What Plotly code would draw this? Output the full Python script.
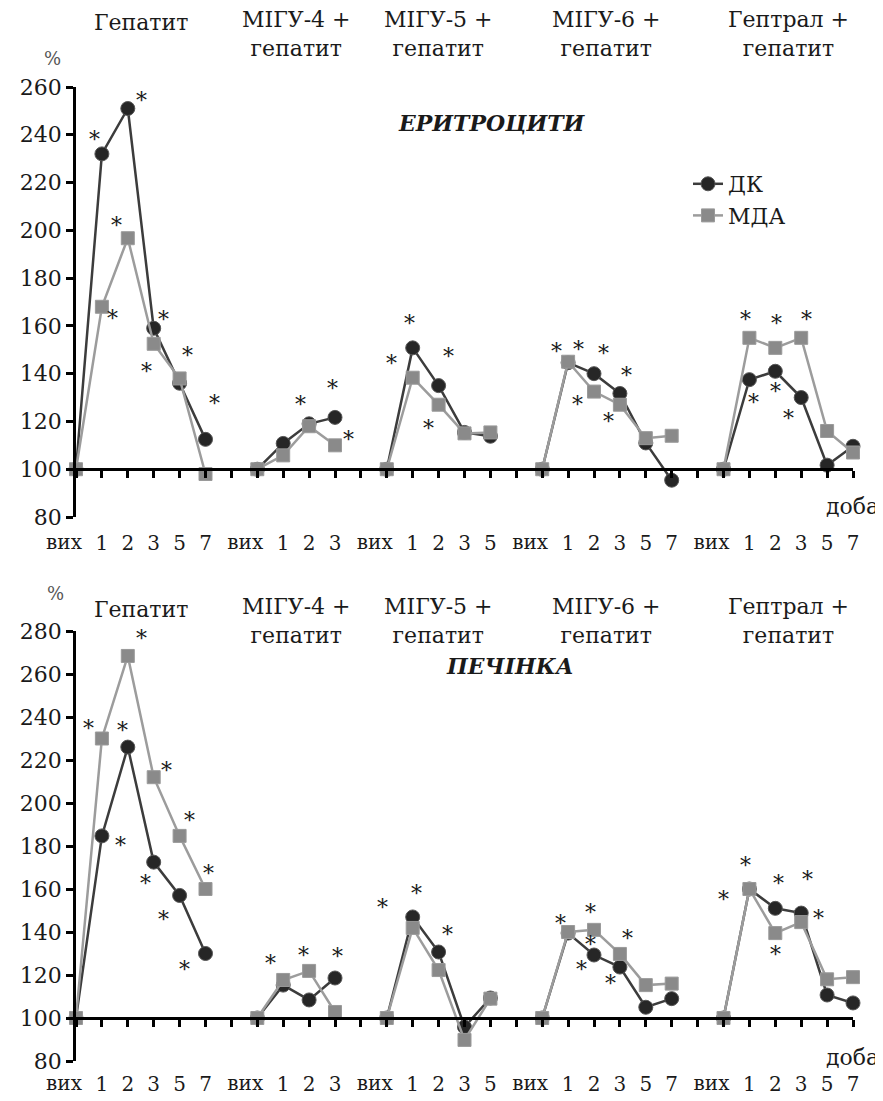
import plotly.graph_objects as go

# ---------------- data ----------------
labels = ["вих", "1", "2", "3", "5", "7", "",
          "вих", "1", "2", "3", "",
          "вих", "1", "2", "3", "5", "",
          "вих", "1", "2", "3", "5", "7", "",
          "вих", "1", "2", "3", "5", "7"]

groups = ["Гепатит", "МІГУ-4 +<br>гепатит", "МІГУ-5 +<br>гепатит",
          "МІГУ-6 +<br>гепатит", "Гептрал +<br>гепатит"]
group_centers = [2.5, 8.5, 14, 20.5, 27.5]

ery_dk = [100, 232, 251, 159, 136, 112.5, None,
          100, 110.8, 119, 121.7, None,
          100, 150.8, 135, 115.4, 113.8, None,
          100, 144.6, 140, 131.7, 111, 95.4, None,
          100, 137.5, 141, 130, 101.7, 109.6]
ery_mda = [100, 168, 196.7, 152.5, 138, 98, None,
           100, 105.8, 118, 110, None,
           100, 138.3, 127, 115, 115.4, None,
           100, 145, 132.5, 127, 113, 114, None,
           100, 155, 150.8, 155, 116, 107]

liv_dk = [100, 184.7, 226, 172.5, 157, 130, None,
          100, 115.3, 108.4, 118.6, None,
          100, 147, 130.7, 95.8, 109.3, None,
          100, 139.5, 129.3, 123.7, 105, 109, None,
          100, 160, 151, 148.8, 110.7, 107]
liv_mda = [100, 230, 268.4, 212, 184.7, 160, None,
           100, 117.7, 121.9, 102.8, None,
           100, 141.9, 122.3, 89.8, 109, None,
           100, 140, 141, 129.8, 115.3, 116, None,
           100, 160, 139.5, 144.6, 118, 119]

# significance asterisks: (series, index, dx px, dy px (down))
ery_stars = [("dk", 1, -7, -20), ("dk", 2, 14, -14), ("mda", 2, -11, -19),
             ("mda", 1, 11, 6), ("dk", 3, 10, -15), ("mda", 3, -7, 22),
             ("mda", 4, 8, -29), ("dk", 5, 9, -42),
             ("mda", 9, -9, -28), ("dk", 10, -3, -35), ("mda", 10, 13, -12),
             ("dk", 13, -21, 10), ("dk", 13, -3, -30), ("dk", 14, 10, -35),
             ("mda", 14, -10, 18),
             ("mda", 19, -12, -16), ("dk", 19, 10, -19), ("dk", 20, 9, -26),
             ("dk", 21, 7, -24), ("mda", 20, -17, 7), ("mda", 21, -11, 11),
             ("mda", 26, -4, -24), ("mda", 27, 1, -30), ("mda", 28, 5, -24),
             ("dk", 26, 4, 17), ("dk", 27, 0, 14), ("dk", 28, -13, 15)]
liv_stars = [("mda", 1, -13, -16), ("dk", 2, -5, -23), ("mda", 2, 14, -23),
             ("mda", 3, 13, -13), ("mda", 4, 10, -21), ("mda", 5, 3, -22),
             ("dk", 1, 19, 4), ("dk", 3, -8, 15), ("dk", 4, -16, 18),
             ("dk", 5, -21, 10),
             ("mda", 8, -13, -22), ("mda", 9, -6, -21), ("dk", 10, 2, -28),
             ("dk", 13, -30, -15), ("dk", 13, 4, -29), ("dk", 14, 9, -24),
             ("mda", 19, -8, -15), ("mda", 20, -4, -23), ("mda", 20, -4, 9),
             ("dk", 20, -13, 8), ("mda", 21, 8, -21), ("dk", 21, -9, 10),
             ("mda", 26, -26, 4), ("mda", 26, -4, -30), ("dk", 27, 3, -31),
             ("dk", 28, 6, -40), ("dk", 28, 17, -1), ("mda", 27, 0, 15)]

# ---------------- layout helpers ----------------
OFF = 8                       # page body margin of the browser
W, H = 883 - OFF, 1101 - OFF
FONT = "DejaVu Serif"
TXT = "#1a1a1a"
DK_LINE, DK_MARK = "#3c3c3c", "#262626"
MDA_LINE, MDA_MARK = "#9c9c9c", "#8a8a8a"
L_PX, R_PX = 76, 853          # plot area left/right in window pixels
PW = R_PX - L_PX


def py(ypix):
    return 1 - (ypix - OFF) / H


def px(xpix):
    return (xpix - L_PX) / PW


xs = list(range(len(labels)))
num_vals = [i for i, t in enumerate(labels) if t != "вих"]
num_text = [labels[i] for i in num_vals]
vyh_vals = [i for i, t in enumerate(labels) if t == "вих"]
vyh_text = [labels[i] for i in vyh_vals]

top_dom = [py(517), py(87)]
bot_dom = [py(1061), py(631)]
top_rng = [80, 260]
bot_rng = [80, 280]


def axis_pos(dom, rng):
    return dom[0] + (100 - rng[0]) / (rng[1] - rng[0]) * (dom[1] - dom[0])


fig = go.Figure()

charts = [("x", "y", ery_dk, ery_mda, True), ("x2", "y2", liv_dk, liv_mda, False)]
for xa, ya, dk, mda, leg in charts:
    fig.add_trace(go.Scatter(
        x=xs, y=dk, xaxis=xa, yaxis=ya, name="ДК", showlegend=leg,
        mode="lines+markers", connectgaps=False, cliponaxis=False,
        line=dict(color=DK_LINE, width=2.5),
        marker=dict(symbol="circle", size=14, color=DK_MARK,
                    line=dict(color="#555555", width=1))))
    fig.add_trace(go.Scatter(
        x=xs, y=mda, xaxis=xa, yaxis=ya, name="МДА", showlegend=leg,
        mode="lines+markers", connectgaps=False, cliponaxis=False,
        line=dict(color=MDA_LINE, width=2.5),
        marker=dict(symbol="square", size=13, color=MDA_MARK,
                    line=dict(color="#9a9a9a", width=1))))
# placeholder traces so the overlay label axes are drawn
for xa, ya in [("x3", "y"), ("x4", "y2")]:
    fig.add_trace(go.Scatter(x=[None], y=[None], xaxis=xa, yaxis=ya,
                             showlegend=False, hoverinfo="skip", mode="markers"))

xbase = dict(range=[0, len(labels) - 1], domain=[0, 1], tickmode="array",
             tickangle=0, ticks="outside", ticklen=7, tickwidth=2.5,
             showgrid=False, zeroline=False, anchor="free", automargin=False,
             tickfont=dict(family=FONT, size=20, color=TXT))
xmain = dict(xbase, tickvals=num_vals + vyh_vals, ticktext=num_text + [""] * len(vyh_vals),
             showline=True, linecolor="black", linewidth=2.5, tickcolor="black")
xvyh = dict(xbase, tickvals=vyh_vals, ticktext=vyh_text, showline=False,
            tickcolor="rgba(0,0,0,0)", ticklabelshift=-12)
ycommon = dict(showline=True, linecolor="black", linewidth=2.5,
               ticks="outside", ticklen=7, tickwidth=2.5, tickcolor="black",
               showgrid=False, zeroline=False, dtick=20, tick0=80, automargin=False,
               tickfont=dict(family=FONT, size=22, color=TXT))

pos_top = axis_pos(top_dom, top_rng)
pos_bot = axis_pos(bot_dom, bot_rng)
fig.update_layout(
    template="none",
    xaxis=dict(xmain, position=pos_top, ticklabelstandoff=48),
    yaxis=dict(ycommon, domain=top_dom, range=top_rng, anchor="x"),
    xaxis2=dict(xmain, position=pos_bot, ticklabelstandoff=40),
    yaxis2=dict(ycommon, domain=bot_dom, range=bot_rng, anchor="x2"),
    xaxis3=dict(xvyh, position=pos_top, ticklabelstandoff=48, overlaying="x"),
    xaxis4=dict(xvyh, position=pos_bot, ticklabelstandoff=40, overlaying="x2"),
)

ann = []


def text_ann(x, y, text, size, xref="paper", yref="paper", xanchor="center",
             color=TXT, **kw):
    ann.append(dict(x=x, y=y, xref=xref, yref=yref, text=text, showarrow=False,
                    xanchor=xanchor, yanchor="middle",
                    font=dict(family=FONT, size=size, color=color), **kw))


# group titles
for top_y, xr in [(0, "x"), (587, "x2")]:
    for g, c in zip(groups, group_centers):
        yc = top_y + (34 if "<br>" in g else 22)
        text_ann(c, py(yc), g, 22, xref=xr)

# chart titles
text_ann(px(492), py(123), "<b><i>ЕРИТРОЦИТИ</i></b>", 22)
text_ann(px(510), py(666), "<b><i>ПЕЧІНКА</i></b>", 22)
# units
text_ann(px(52), py(59), "%", 18, color="#555555")
text_ann(px(55), py(593), "%", 18, color="#555555")
text_ann(px(881), py(507), "доба", 22, xanchor="right")
text_ann(px(881), py(1057), "доба", 22, xanchor="right")

# asterisks
STAR_GLYPH_DROP = 6
for stars, dk, mda, xr, yr in [(ery_stars, ery_dk, ery_mda, "x", "y"),
                               (liv_stars, liv_dk, liv_mda, "x2", "y2")]:
    for s, i, dx, dy in stars:
        val = dk[i] if s == "dk" else mda[i]
        text_ann(i, val, "*", 22, xref=xr, yref=yr,
                 xshift=dx, yshift=-(dy + STAR_GLYPH_DROP))

fig.update_layout(
    annotations=ann,
    width=W, height=H,
    margin=dict(l=L_PX - OFF, r=883 - R_PX, t=0, b=0, autoexpand=False),
    paper_bgcolor="white", plot_bgcolor="white",
    font=dict(family=FONT, color=TXT),
    legend=dict(x=px(688), y=py(163), xanchor="left", yanchor="top",
                bgcolor="rgba(0,0,0,0)", borderwidth=0,
                font=dict(family=FONT, size=22, color=TXT),
                itemwidth=30, tracegroupgap=0),
)

fig.write_html("out.html")
